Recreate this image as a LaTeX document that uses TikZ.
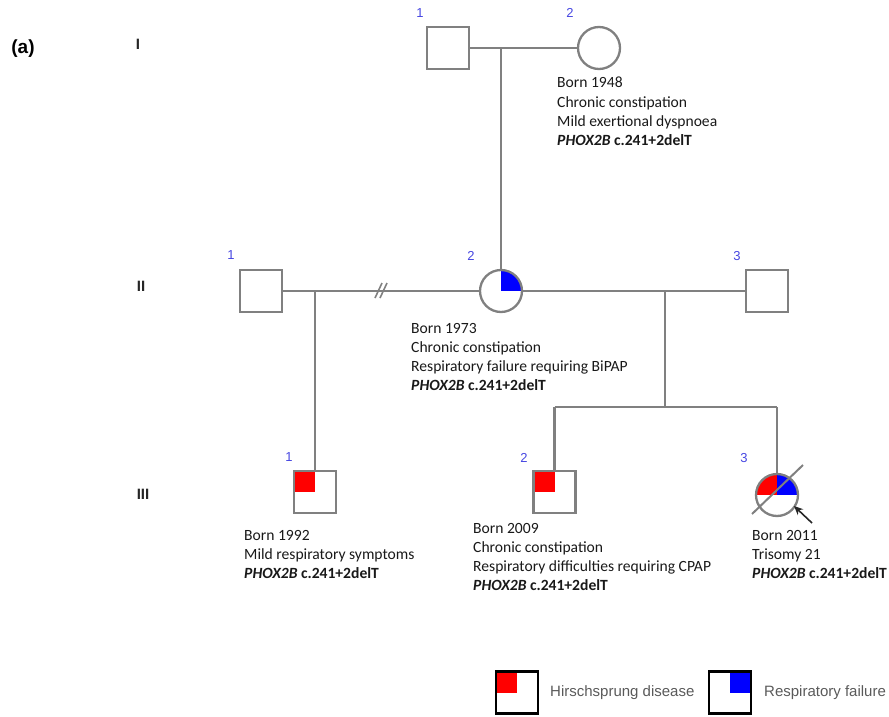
\documentclass[tikz,border=0pt]{standalone}
\usepackage{fontspec}
\setmainfont{Carlito}
\newfontfamily\arialfont{Liberation Sans}
\usetikzlibrary{arrows.meta}
\definecolor{pedgray}{RGB}{128,128,128}
\definecolor{numblue}{RGB}{70,70,225}
\definecolor{txt}{RGB}{25,25,25}
\definecolor{hred}{RGB}{255,0,0}
\definecolor{rblue}{RGB}{0,0,255}
\definecolor{legtxt}{RGB}{90,90,90}
\begin{document}
\begin{tikzpicture}[x=1pt,y=-1pt,
  pedline/.style={draw=pedgray,line width=2.3pt},
  male/.style={rectangle,draw=pedgray,line width=2.3pt,fill=white,minimum size=42pt,inner sep=0pt},
  female/.style={circle,draw=pedgray,line width=2.3pt,fill=white,minimum size=42pt,inner sep=0pt},
  hsd/.style={path picture={\fill[hred] (path picture bounding box.north west) rectangle (path picture bounding box.center);}},
  rf/.style={path picture={\fill[rblue] (path picture bounding box.north east) rectangle (path picture bounding box.center);}},
  both/.style={path picture={\fill[hred] (path picture bounding box.north west) rectangle (path picture bounding box.center);
      \fill[rblue] (path picture bounding box.north east) rectangle (path picture bounding box.center);}},
  num/.style={font=\arialfont\fontsize{13}{13}\selectfont,text=numblue,inner sep=0pt},
  gen/.style={font=\arialfont\bfseries\fontsize{15}{15}\selectfont,text=black!85,inner sep=0pt},
  info/.style={font=\fontsize{15.6}{19.2}\selectfont,text=txt,align=left,anchor=north west,inner sep=0pt},
  legbox/.style={rectangle,draw=black,line width=2.6pt,fill=white,minimum size=42pt,inner sep=0pt},
  legtext/.style={font=\arialfont\fontsize{15}{15}\selectfont,text=legtxt,anchor=west,inner sep=0pt}
  ]
\useasboundingbox (0,0) rectangle (889,717);

% panel label and generations
\node[font=\arialfont\bfseries\fontsize{19}{19}\selectfont,inner sep=0pt] (lab) at (23,49) {(a)};
\node[gen] (gI) at (138,44) {I};
\node[gen] (gII) at (141,286) {II};
\node[gen] (gIII) at (143,494) {III};

% individuals
\node[male] (I1) at (448,48) {};
\node[female] (I2) at (599,48) {};
\node[male] (II1) at (261,291) {};
\node[female,rf] (II2) at (501,291) {};
\node[male] (II3) at (767,291) {};
\node[male,hsd] (III1) at (315,492) {};
\node[male,hsd] (III2) at (554.5,492) {};
\node[female,both] (III3) at (777,495) {};

% numbers
\node[num] (nI1) at (420,13) {1};
\node[num] (nI2) at (570,13) {2};
\node[num] (nII1) at (231,255) {1};
\node[num] (nII2) at (471,256) {2};
\node[num] (nII3) at (737,256) {3};
\node[num] (nIII1) at (289,457) {1};
\node[num] (nIII2) at (524,458) {2};
\node[num] (nIII3) at (744,458) {3};

% connectors
\coordinate (mI) at (501,48);
\draw[pedline] (I1.east) -- (I2.west);
\draw[pedline] (mI) -- (II2.north);
\coordinate (mA) at (315,291);
\coordinate (mB) at (665,291);
\coordinate (sL) at (554.5,407);
\coordinate (sM) at (665,407);
\coordinate (sR) at (777,407);
\draw[pedline] (II1.east) -- (II2.west);
\draw[pedline] (II2.east) -- (II3.west);
\draw[pedline] (mA) -- (III1.north);
\draw[pedline] (mB) -- (sM);
\draw[pedline] (sL) -- (sR);
\draw[pedline] (sL) -- (III2.north);
\draw[pedline] (sR) -- (III3.north);
% divorce marks
\coordinate (d1a) at (375,298); \coordinate (d1b) at (382,283);
\coordinate (d2a) at (380,298); \coordinate (d2b) at (387,283);
\draw[draw=pedgray,line width=1.6pt] (d1a) -- (d1b);
\draw[draw=pedgray,line width=1.6pt] (d2a) -- (d2b);
% deceased slash and proband arrow
\coordinate (dsA) at (752,514);
\coordinate (dsB) at (803,465);
\draw[draw=pedgray,line width=2pt] (dsA) -- (dsB);
\coordinate (arA) at (812,523);
\coordinate (arB) at (794,506);
\draw[draw=black!85,line width=1.6pt,-{Stealth[length=9pt,width=8pt]}] (arA) -- (arB);

% info texts
\node[info] (tI2) at (557,77) {Born 1948\\Chronic constipation\\Mild exertional dyspnoea\\\textbf{\textit{PHOX2B}} \textbf{c.241+2delT}};
\node[info] (tII2) at (411,323) {Born 1973\\Chronic constipation\\Respiratory failure requiring BiPAP\\\textbf{\textit{PHOX2B}} \textbf{c.241+2delT}};
\node[info] (tIII1) at (244,530) {Born 1992\\Mild respiratory symptoms\\\textbf{\textit{PHOX2B}} \textbf{c.241+2delT}};
\node[info] (tIII2) at (473,523) {Born 2009\\Chronic constipation\\Respiratory difficulties requiring CPAP\\\textbf{\textit{PHOX2B}} \textbf{c.241+2delT}};
\node[info] (tIII3) at (752,530) {Born 2011\\Trisomy 21\\\textbf{\textit{PHOX2B}} \textbf{c.241+2delT}};

% legend
\node[legbox,hsd] (L1) at (517,692.5) {};
\node[legtext] (L1t) at (550,693) {Hirschsprung disease};
\node[legbox,rf] (L2) at (730,692.5) {};
\node[legtext] (L2t) at (764,693) {Respiratory failure};
\end{tikzpicture}
\end{document}
